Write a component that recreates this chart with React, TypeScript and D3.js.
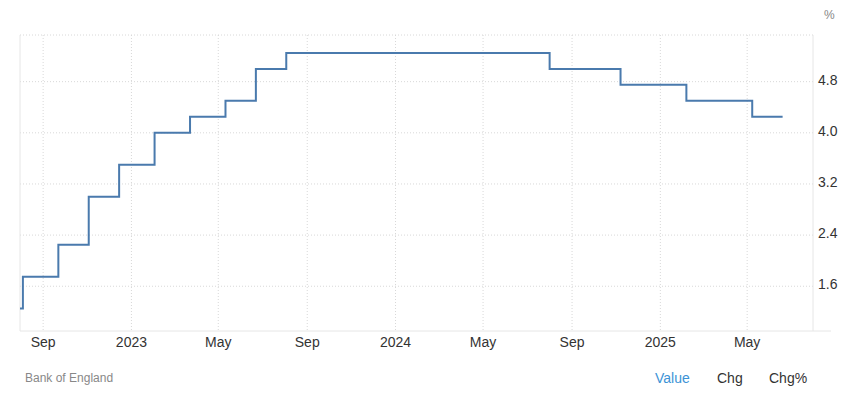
import React from 'react'
import * as d3 from 'd3'

// Bank of England bank rate, step changes
const rateDates = [
    '2022-07-31', '2022-08-04', '2022-09-22', '2022-11-03', '2022-12-15',
    '2023-02-02', '2023-03-23', '2023-05-11', '2023-06-22', '2023-08-03',
    '2024-08-01', '2024-11-07', '2025-02-06', '2025-05-08', '2025-06-19'
]
const rateValues = [1.25, 1.75, 2.25, 3.0, 3.5, 4.0, 4.25, 4.5, 5.0, 5.25, 5.0, 4.75, 4.5, 4.25, 4.25]
const yTicks = [1.6, 2.4, 3.2, 4.0, 4.8]
const yDomain = [0.9, 5.53]
const xDomain = ['2022-07-31', '2025-07-31']
const source = 'Bank of England'
const tabs = ['Value', 'Chg', 'Chg%']

const W = 850
const H = 399
const margin = { top: 35, right: 37, bottom: 68, left: 20 }
const font = 'Arial, "Liberation Sans", sans-serif'

export default function App() {
    const parse = d3.utcParse('%Y-%m-%d')
    const data = rateDates.map((d, i) => ({ date: parse(d) as Date, value: rateValues[i] }))

    const x = d3.scaleUtc()
        .domain(xDomain.map(d => parse(d) as Date))
        .range([margin.left, W - margin.right])
    const y = d3.scaleLinear()
        .domain(yDomain)
        .range([H - margin.bottom, margin.top])

    const xTicks = d3.utcMonths(x.domain()[0], x.domain()[1]).filter(d => d.getUTCMonth() % 4 === 0)
    const fmt = (d: Date) => d.getUTCMonth() === 0 ? d3.utcFormat('%Y')(d) : d3.utcFormat('%b')(d)

    const line = d3.line<{ date: Date, value: number }>()
        .x(d => x(d.date))
        .y(d => y(d.value))
        .curve(d3.curveStepAfter)

    const x0 = margin.left
    const x1 = W - margin.right
    const y0 = H - margin.bottom
    const y1 = margin.top

    return (
        <svg width={W} height={H} style={{ position: 'absolute', left: 0, top: 0, fontFamily: font }}>
            <rect width={W} height={H} fill="#fff" />
            {/* grid */}
            <line x1={x0} x2={x1} y1={y1} y2={y1} stroke="#d8d8d8" strokeDasharray="1,2" />
            {yTicks.map(t => (
                <line key={t} x1={x0} x2={x1} y1={y(t)} y2={y(t)} stroke="#d8d8d8" strokeDasharray="1,2" />
            ))}
            {xTicks.map(t => (
                <line key={+t} x1={x(t)} x2={x(t)} y1={y1} y2={y0} stroke="#d8d8d8" strokeDasharray="1,2" />
            ))}
            <line x1={x0} x2={x0} y1={y1} y2={y0} stroke="#e6e6e6" />
            <line x1={x1} x2={x1} y1={y1} y2={y0} stroke="#e6e6e6" />
            <line x1={x0} x2={x1 + 18} y1={y0} y2={y0} stroke="#e6e6e6" />

            <path d={line(data) ?? ''} fill="none" stroke="#4a7aad" strokeWidth={2} />

            {/* axes labels */}
            {yTicks.map(t => (
                <text key={t} x={x1 + 5} y={y(t) + 3} fontSize={14} fill="#333">{t.toFixed(1)}</text>
            ))}
            <text x={x1 + 11} y={19} fontSize={12} fill="#888">%</text>
            {xTicks.map(t => (
                <text key={+t} x={x(t)} y={y0 + 16} fontSize={14} fill="#333" textAnchor="middle">{fmt(t)}</text>
            ))}

            <text x={25} y={382} fontSize={12} fill="#888">{source}</text>
            {tabs.map((t, i) => (
                <text key={t} x={[655, 717, 769][i]} y={383} fontSize={14} fill={i === 0 ? '#3d93d6' : '#333'}>{t}</text>
            ))}
        </svg>
    )
}
